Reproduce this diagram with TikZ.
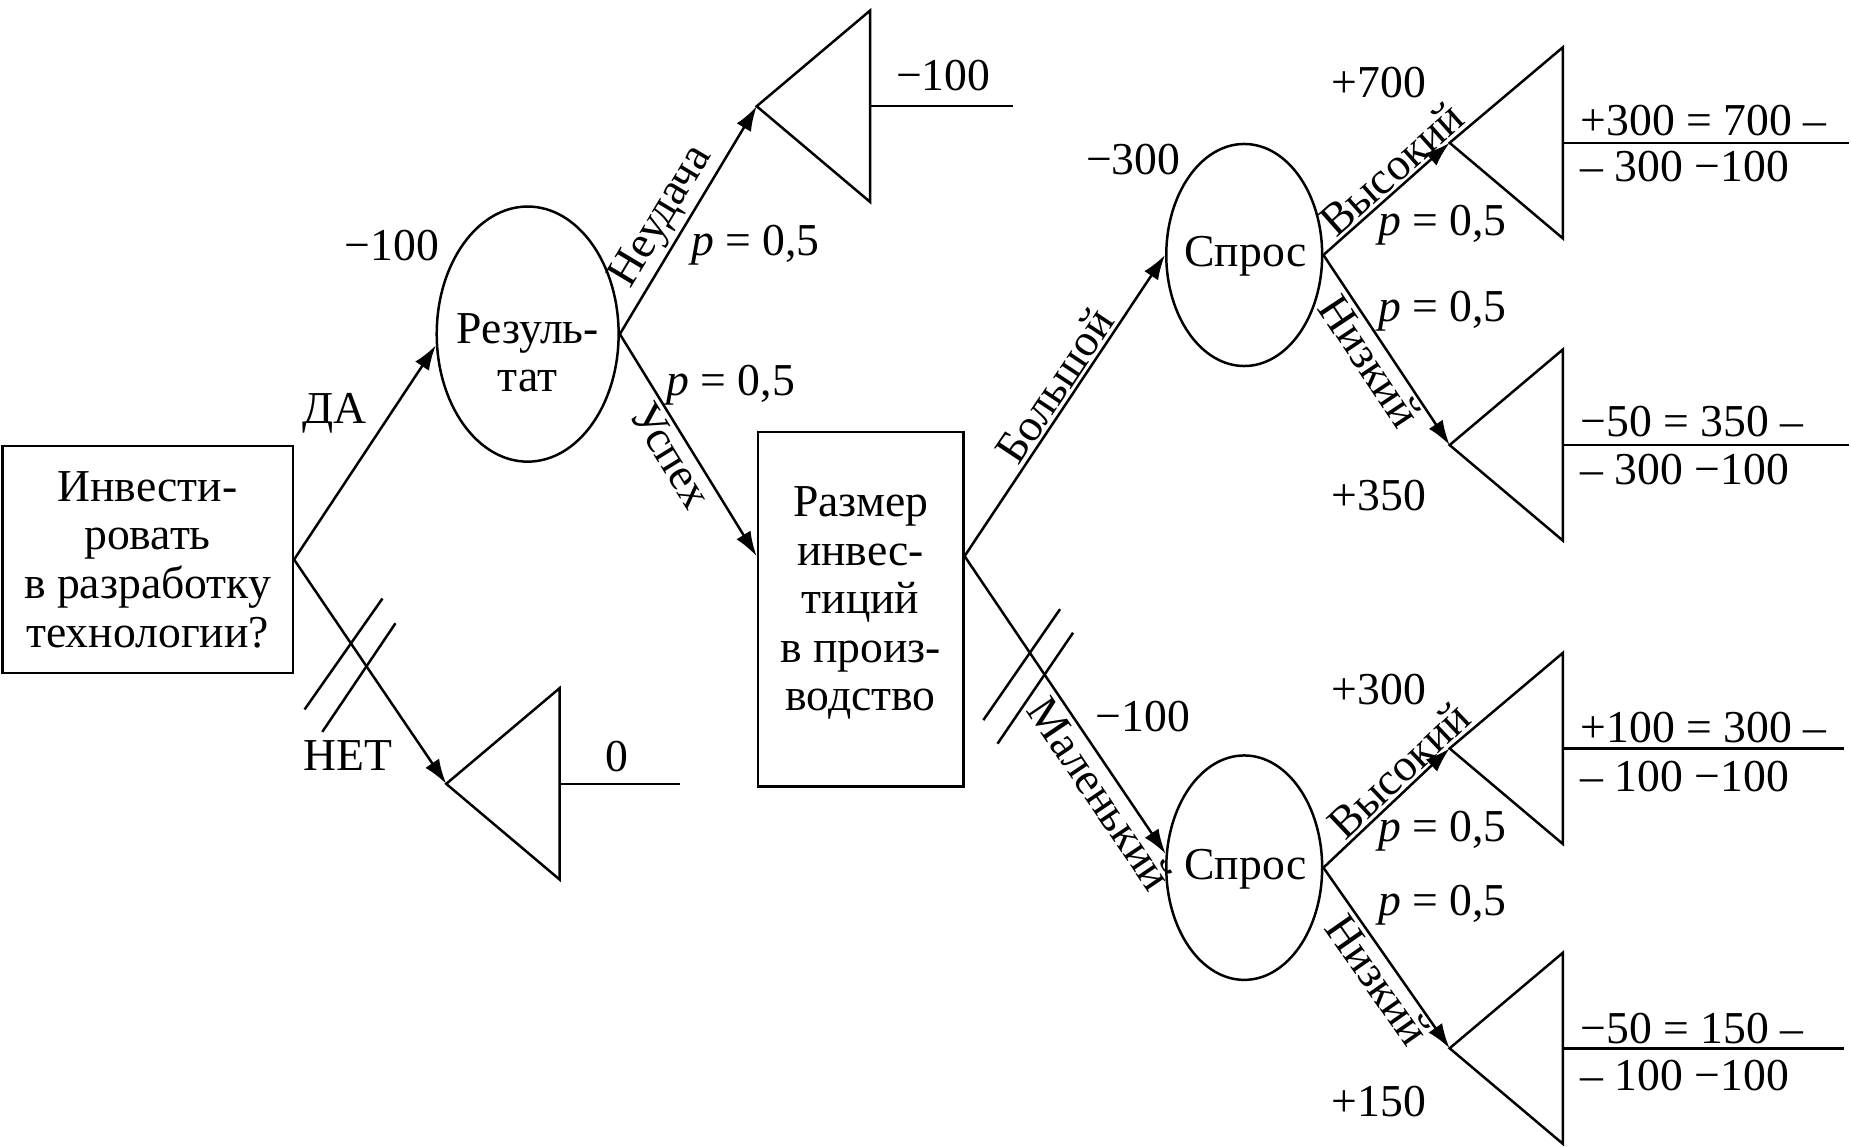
\documentclass[tikz,border=0pt]{standalone}
\usepackage{fontspec}
\setmainfont{Liberation Serif}
\usetikzlibrary{shapes.geometric,arrows.meta,calc}
\begin{document}
\begin{tikzpicture}[x=0.01cm,y=-0.01cm, line width=0.6pt,
  every node/.style={font=\fontsize{11}{11.7}\selectfont, inner sep=0pt},
  decbox/.style={draw, rectangle},
  chance/.style={draw, ellipse},
  arr/.style={-{Latex[length=0.21cm,width=0.14cm]}},
  frac/.style={anchor=west},
  lab/.style={sloped},
  ]
\useasboundingbox (0,0) rectangle (1568,972);

% decision nodes
\node[decbox, minimum width=2.46cm, minimum height=1.92cm, align=center] (A) at (125,474)
  {Инвести-\\ровать\\в разработку\\технологии?};
\node[decbox, minimum width=1.74cm, minimum height=3.00cm] (B) at (729,516) {};
\node[align=center] (Bt) at (729,511) {Размер\\инвес-\\тиций\\в произ-\\водство};

% chance nodes
\node[chance, minimum width=1.54cm, minimum height=2.16cm] (R) at (447,283) {};
\node[align=center] (Rt) at (447,299) {Резуль-\\тат};
\node[chance, minimum width=1.32cm, minimum height=1.88cm] (S1) at (1054,216) {};
\node (S1t) at (1055,217) {Спрос};
\node[chance, minimum width=1.32cm, minimum height=1.90cm] (S2) at (1054,735) {};
\node (S2t) at (1055,736) {Спрос};

% end nodes (triangles) with payoff lines
\foreach \n/\ax/\ay/\ex in {t1/378/664/576, t2/641/90/858, t3/1228/121/1566,
                             t4/1228/377/1566, t5/1228/634/1562, t6/1228/888/1562} {
  \coordinate (\n) at (\ax,\ay);
  \draw (\n) -- ++(96,-81) -- ++(0,162) -- cycle;
  \draw (\n) ++(96,0) coordinate (\n r) -- (\ex,\ay) coordinate (\n e);
}

% connectors with branch names
\draw[arr] (A.east) -- (R.187);
\draw[arr] (A.east) -- (t1);
\draw[arr] (R.east) -- node[lab, pos=0.46, above=0.6pt] (l6) {Неудача} (t2);
\draw[arr] (R.east) -- node[lab, pos=0.50, below=0.8pt] (l9) {Успех} (B.153);
\draw[arr] (B.27) -- node[lab, pos=0.53, above=0.6pt] (l10) {Большой} (S1.west);
\draw[arr] (B.27) -- node[lab, pos=0.76, below=0.8pt] (l11) {Маленький} (S2.170);
\draw[arr] (S1.east) -- node[lab, pos=0.64, above=0.5pt] (l15) {Высокий} (t3);
\draw[arr] (S1.east) -- node[lab, pos=0.50, below=0.6pt] (l18) {Низкий} (t4);
\draw[arr] (S2.east) -- node[lab, pos=0.70, above=0.5pt] (l21) {Высокий} (t5);
\draw[arr] (S2.east) -- node[lab, pos=0.56, below=0.6pt] (l24) {Низкий} (t6);

% blocked-branch marks
\draw (258,601) -- (324,507);
\draw (273,620) -- (335,528);
\draw (833,610) -- (898,516);
\draw (845,630) -- (909,536);

% labels
\node (l1) at (332,208) {−100};
\node (l2) at (283,350) {ДА};
\node (l3) at (295,640) {НЕТ};
\node (l4) at (523,641) {0};
\node (l5) at (799,64) {−100};
\node (l7) at (640,208) {\textit{p} = 0,5};
\node (l8) at (619,326) {\textit{p} = 0,5};
\node (l12) at (968,607) {−100};
\node (l13) at (960,135) {−300};
\node (l14) at (1168,70) {+700};
\node (l16) at (1222,191) {\textit{p} = 0,5};
\node (l17) at (1222,264) {\textit{p} = 0,5};
\node (l19) at (1168,420) {+350};
\node (l20) at (1168,584) {+300};
\node (l22) at (1222,704) {\textit{p} = 0,5};
\node (l23) at (1222,767) {\textit{p} = 0,5};
\node (l25) at (1168,933) {+150};

% payoff fractions
\node[frac] (f1) at (1338,102) {+300 = 700 –};
\node[frac] (f2) at (1338,141) {– 300 −100};
\node[frac] (f3) at (1338,357) {−50 = 350 –};
\node[frac] (f4) at (1338,398) {– 300 −100};
\node[frac] (f5) at (1338,616) {+100 = 300 –};
\node[frac] (f6) at (1338,658) {– 100 −100};
\node[frac] (f7) at (1338,871) {−50 = 150 –};
\node[frac] (f8) at (1338,911) {– 100 −100};
\end{tikzpicture}
\end{document}
